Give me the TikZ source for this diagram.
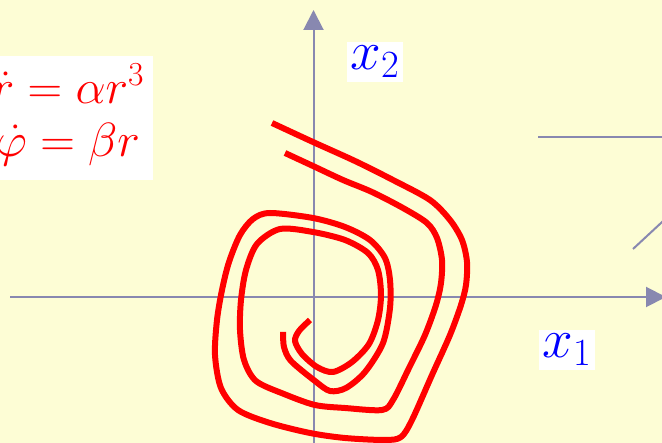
\documentclass[tikz,border=0pt]{standalone}
\usepackage{fix-cm}
\usepackage{amsmath}
\usetikzlibrary{arrows.meta, backgrounds}
\usepackage{xcolor}
\definecolor{paperCol}{HTML}{FDFDD5}
\definecolor{axisCol}{HTML}{8888B0}
\definecolor{labelCol}{HTML}{0000FF}
\definecolor{orbitCol}{HTML}{FF0000}

\begin{document}
\begin{tikzpicture}[
    x=1pt, y=-1pt,
    axisline/.style={-{Triangle[length=20pt, width=20pt]}, line width=2pt, draw=axisCol},
    guide/.style={line width=2pt, draw=axisCol},
    axlabel/.style={fill=white, text=labelCol, inner xsep=4pt, inner ysep=4pt, font=\fontsize{55}{60}\selectfont},
    law/.style={fill=white, text=orbitCol, inner xsep=9pt, inner ysep=8pt, font=\fontsize{48}{53}\selectfont},
    orbit/.style={line width=6pt, draw=orbitCol, line join=round}
]

% =====================================================================
% PAPER
% =====================================================================
\fill[paperCol] (0,0) rectangle (662,443);
\useasboundingbox (0,0) rectangle (662,443);

% =====================================================================
% AXES
% =====================================================================
\coordinate (W) at (10,297);
\coordinate (E) at (666,297);
\coordinate (S) at (313.5,446);
\coordinate (N) at (313.5,10);
\draw[axisline] (W) -- (E);
\draw[axisline] (S) -- (N);

% stray guide lines on the right
\coordinate (g1) at (538,137);
\coordinate (g2) at (666,137);
\coordinate (g3) at (633,249);
\coordinate (g4) at (668,216.5);
\draw[guide] (g1) -- (g2);
\draw[guide] (g3) -- (g4);

% =====================================================================
% TRAJECTORIES
% =====================================================================
% outer one
\draw[orbit] plot[smooth] coordinates {
    (272,123) (313,142) (355,161) (393,180) (430,200) (450,220) (462,240)
    (467,262) (466,285) (461,305) (450,335) (432,375) (412,420) (401,437)
    (385,440) (345,438) (310,433) (270,423) (238,410) (221,388) (215,355)
    (217,320) (222,290) (229,262) (240,235) (253,219) (270,213) (313,218)
    (345,227) (370,240) (385,258) (390,280) (390,308) (383,343) (365,372)
    (346,388) (330,391) (315,381) (291,361) (284,347) (283,332)};

% inner one
\draw[orbit] plot[smooth] coordinates {
    (285,153) (313,166) (343,180) (372,192) (403,208) (427,223) (437,238)
    (442,260) (441,283) (436,305) (425,335) (409,368) (393,400) (382,410)
    (345,408) (315,405) (284,394) (256,381) (244,360) (240,330) (241,300)
    (246,270) (257,244) (280,229) (313,232) (345,240) (368,253) (378,270)
    (381,295) (378,320) (369,344) (352,362) (333,372) (317,367) (302,354)
    (295,341) (299,331) (310,320)};

% =====================================================================
% LABELS
% =====================================================================
\node[axlabel] (X2) at (375,62) {$x_2$};
\node[axlabel] (X1) at (567,350) {$x_1$};
\node[law] (LAW) at (68,118)
    {$\begin{array}{@{}c@{}} \dot r = \alpha r^3\\ \dot\varphi = \beta r \end{array}$};

\end{tikzpicture}
\end{document}
